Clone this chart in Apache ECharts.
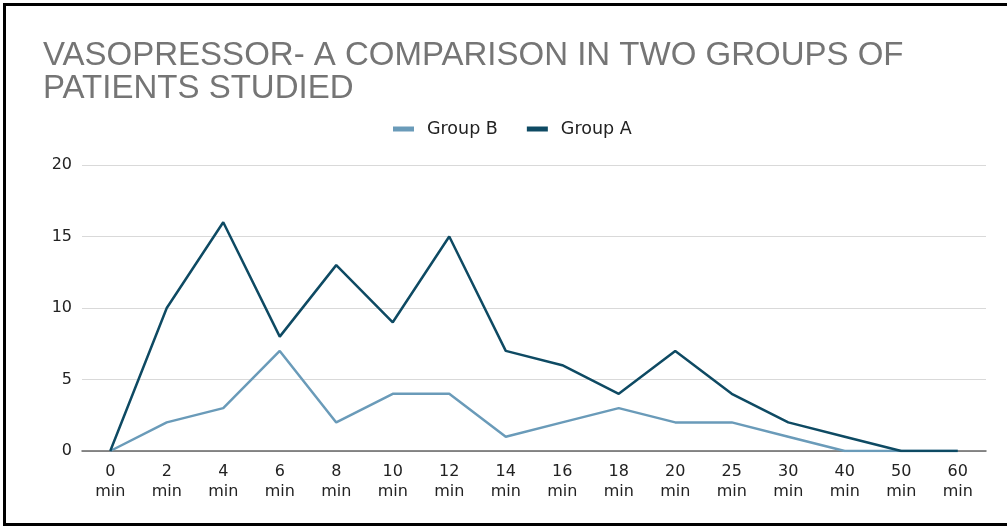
<!DOCTYPE html>
<html>
<head>
<meta charset="utf-8">
<script src="https://cdn.jsdelivr.net/npm/echarts@6/dist/echarts.min.js"></script>
<style>
  html, body { margin: 0; padding: 0; background: #fff; }
  #frame {
    position: absolute; left: 3px; top: 3px;
    width: 1010px; height: 517px;
    border: 3px solid #000; border-right: none;
  }
  #chart { position: absolute; left: 0; top: 0; width: 1007px; height: 526px; }
</style>
</head>
<body>
<div id="frame"></div>
<div id="chart"></div>
<script>
// minutes after induction
const categories = ["0", "2", "4", "6", "8", "10", "12", "14", "16", "18", "20", "25", "30", "40", "50", "60"];
const groupB = [0, 2, 3, 7, 2, 4, 4, 1, 2, 3, 2, 2, 1, 0, 0, 0];
const groupA = [0, 10, 16, 8, 13, 9, 15, 7, 6, 4, 7, 4, 2, 1, 0, 0];
const yTicks = { min: 0, max: 20, interval: 5 };

const chart = echarts.init(document.getElementById("chart"));
chart.setOption({
  animation: false,
  title: {
    text: "VASOPRESSOR- A COMPARISON IN TWO GROUPS OF\nPATIENTS STUDIED",
    left: 38,
    top: 34,
    textStyle: {
      color: "#757575",
      fontFamily: "Liberation Sans",
      fontSize: 33,
      fontWeight: "normal",
      lineHeight: 33
    }
  },
  legend: {
    top: 115,
    left: 388,
    itemWidth: 21,
    itemHeight: 5,
    itemGap: 29,
    icon: "rect",
    textStyle: {
      color: "#222", fontFamily: "DejaVu Sans", fontSize: 17.5,
      padding: [0, 0, 0, 8]
    },
    data: ["Group B", "Group A"]
  },
  grid: { left: 82, right: 21, top: 165, bottom: 75 },
  xAxis: {
    type: "category",
    data: categories,
    boundaryGap: true,
    axisLine: { lineStyle: { color: "#666", width: 1.5 } },
    axisTick: { show: false },
    axisLabel: {
      color: "#222",
      fontFamily: "DejaVu Sans",
      fontSize: 16,
      lineHeight: 20,
      margin: 11,
      interval: 0,
      formatter: v => v + "\nmin"
    }
  },
  yAxis: {
    type: "value",
    min: yTicks.min,
    max: yTicks.max,
    interval: yTicks.interval,
    axisLine: { show: false },
    axisTick: { show: false },
    splitLine: { lineStyle: { color: "#d9d9d9" } },
    axisLabel: { color: "#222", fontFamily: "DejaVu Sans", fontSize: 16, margin: 10 }
  },
  series: [
    {
      name: "Group B",
      type: "line",
      data: groupB,
      symbol: "none",
      color: "#6a9bb9",
      lineStyle: { width: 2.5 }
    },
    {
      name: "Group A",
      type: "line",
      data: groupA,
      symbol: "none",
      color: "#0e4a63",
      lineStyle: { width: 2.5 }
    }
  ]
});
</script>
</body>
</html>
